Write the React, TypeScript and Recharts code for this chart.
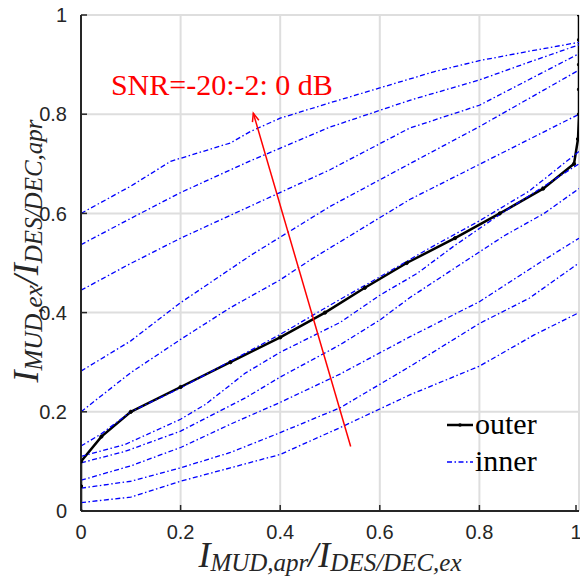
import React from "react";
import {
  LineChart,
  Line,
  XAxis,
  YAxis,
  CartesianGrid,
  Legend,
  ReferenceLine,
  ReferenceDot
} from "recharts";

// axis ticks
const xTicks = [0, 0.2, 0.4, 0.6, 0.8, 1];
const yTicks = [0, 0.2, 0.4, 0.6, 0.8, 1];

// outer curve (MUD)
const outerCurve: [number, number][] = [
  [0, 0], [0, 0.05], [0, 0.1], [0.041, 0.15], [0.1, 0.2], [0.2, 0.25], [0.3, 0.3],
  [0.4, 0.35], [0.49, 0.4], [0.57, 0.45], [0.654, 0.5], [0.751, 0.55], [0.841, 0.6],
  [0.928, 0.65], [0.99, 0.7], [0.998, 0.75], [1, 0.8], [1, 0.85], [1, 0.9], [1, 0.95], [1, 1]
];

// inner curves, one per SNR
const snrLevels = [-20, -18, -16, -14, -12, -10, -8, -6, -4, -2, 0];

const innerM20: [number, number][] = [[0, 0.017], [0.1, 0.028], [0.2, 0.06], [0.3, 0.087], [0.4, 0.114], [0.52, 0.168], [0.66, 0.234], [0.8, 0.292], [0.91, 0.355], [1, 0.4]];
const innerM18: [number, number][] = [[0, 0.046], [0.1, 0.06], [0.2, 0.087], [0.3, 0.118], [0.4, 0.158], [0.52, 0.208], [0.66, 0.291], [0.8, 0.378], [0.9, 0.429], [1, 0.5]];
const innerM16: [number, number][] = [[0, 0.062], [0.1, 0.091], [0.2, 0.128], [0.3, 0.175], [0.4, 0.219], [0.52, 0.276], [0.66, 0.351], [0.8, 0.422], [0.92, 0.5], [1, 0.55]];
const innerM14: [number, number][] = [[0, 0.097], [0.088, 0.12], [0.2, 0.161], [0.33, 0.228], [0.4, 0.27], [0.52, 0.335], [0.6, 0.385], [0.66, 0.43], [0.76, 0.496], [0.85, 0.555], [0.93, 0.6], [1, 0.65]];
const innerM12: [number, number][] = [[0, 0.11], [0.088, 0.134], [0.2, 0.185], [0.25, 0.215], [0.33, 0.278], [0.4, 0.32], [0.47, 0.355], [0.52, 0.38], [0.6, 0.435], [0.675, 0.479], [0.75, 0.535], [0.84, 0.597], [0.93, 0.655], [1, 0.7]];
const innerM10: [number, number][] = [[0, 0.131], [0.04, 0.155], [0.1, 0.2], [0.2, 0.248], [0.3, 0.302], [0.4, 0.356], [0.5, 0.415], [0.6, 0.472], [0.7, 0.53], [0.8, 0.585], [0.9, 0.645], [1, 0.725]];
const innerM8: [number, number][] = [[0, 0.2], [0.1, 0.279], [0.2, 0.346], [0.3, 0.41], [0.4, 0.466], [0.46, 0.506], [0.56, 0.567], [0.66, 0.628], [0.83, 0.714], [1, 0.8]];
const innerM6: [number, number][] = [[0, 0.282], [0.1, 0.343], [0.2, 0.42], [0.34, 0.515], [0.5, 0.614], [0.66, 0.7], [0.8, 0.775], [0.93, 0.849], [1, 0.889]];
const innerM4: [number, number][] = [[0, 0.445], [0.094, 0.496], [0.2, 0.55], [0.33, 0.61], [0.5, 0.688], [0.66, 0.772], [0.8, 0.818], [0.9, 0.87], [1, 0.922]];
const innerM2: [number, number][] = [[0, 0.537], [0.1, 0.59], [0.2, 0.642], [0.34, 0.706], [0.5, 0.774], [0.66, 0.828], [0.8, 0.869], [0.9, 0.905], [1, 0.94]];
const inner0: [number, number][] = [[0, 0.6], [0.1, 0.655], [0.18, 0.705], [0.3, 0.742], [0.34, 0.765], [0.4, 0.792], [0.5, 0.823], [0.6, 0.853], [0.71, 0.886], [0.8, 0.908], [0.9, 0.927], [1, 0.945]];

const innerCurves = [innerM20, innerM18, innerM16, innerM14, innerM12, innerM10, innerM8, innerM6, innerM4, innerM2, inner0];

// arrow annotation (tail -> head) and its text
const arrowTail = { x: 0.5415, y: 0.13 };
const arrowHead = { x: 0.346, y: 0.802 };
const snrText = "SNR=-20:-2: 0 dB";
const snrTextPos = { x: 0.06, y: 0.839 };

const legendOrder = ["outer", "inner"];

const toPts = (arr: [number, number][]) => arr.map(([x, y]) => ({ x, y }));

const DASHDOT = "5 2.5 1.5 2.5";
const AXIS_COLOR = "#262626";
const serif = "'Liberation Serif', 'Times New Roman', serif";
const sans = "'Liberation Sans', Arial, sans-serif";
const TICK_GAP = 14; // distance from the axis line to the label
const TICK_LEN = 6; // MATLAB style ticks point into the plot

const BottomTick = (p: any) => {
  const axisY = p.y - TICK_GAP;
  return (
    <g>
      <line x1={p.x} x2={p.x} y1={axisY} y2={axisY - TICK_LEN} stroke={AXIS_COLOR} strokeWidth={1.5} />
      <text x={p.x} y={p.y} dy="0.71em" textAnchor="middle" fontSize={20} fontFamily={sans} fill={AXIS_COLOR}>
        {String(p.payload.value)}
      </text>
    </g>
  );
};

const LeftTick = (p: any) => {
  const axisX = p.x + TICK_GAP;
  return (
    <g>
      <line x1={axisX} x2={axisX + TICK_LEN} y1={p.y} y2={p.y} stroke={AXIS_COLOR} strokeWidth={1.5} />
      <text x={p.x} y={p.y} dy="0.355em" textAnchor="end" fontSize={20} fontFamily={sans} fill={AXIS_COLOR}>
        {String(p.payload.value)}
      </text>
    </g>
  );
};

const TopTick = (p: any) => (
  <line x1={p.x} x2={p.x} y1={p.y} y2={p.y + TICK_LEN} stroke={AXIS_COLOR} strokeWidth={1.5} />
);

const RightTick = (p: any) => (
  <line x1={p.x} x2={p.x - TICK_LEN} y1={p.y} y2={p.y} stroke={AXIS_COLOR} strokeWidth={1.5} />
);

const Arrow = (props: any) => {
  const { x1, y1, x2, y2 } = props;
  const ang = Math.atan2(y2 - y1, x2 - x1);
  const len = 9;
  const spread = 0.38;
  const ax = x2 - len * Math.cos(ang - spread);
  const ay = y2 - len * Math.sin(ang - spread);
  const bx = x2 - len * Math.cos(ang + spread);
  const by = y2 - len * Math.sin(ang + spread);
  return (
    <g>
      <line x1={x1} y1={y1} x2={x2} y2={y2} stroke="#ff0000" strokeWidth={1.5} />
      <polyline points={`${ax},${ay} ${x2},${y2} ${bx},${by}`} fill="none" stroke="#ff0000" strokeWidth={1.5} />
    </g>
  );
};

const XTitle = (props: any) => {
  const vb = props.viewBox;
  const cx = vb.x + vb.width / 2;
  const y = vb.y + 56;
  return (
    <text x={cx} y={y} textAnchor="middle" style={{ fontFamily: serif, fontStyle: "italic" }} fontSize={36} fill={AXIS_COLOR}>
      I<tspan fontSize={25} dy={4}>MUD,apr</tspan>
      <tspan fontSize={36} dy={-4}>/I</tspan>
      <tspan fontSize={25} dy={4}>DES/DEC,ex</tspan>
    </text>
  );
};

const YTitle = (props: any) => {
  const vb = props.viewBox;
  const cx = 38;
  const cy = vb.y + vb.height / 2 - 12;
  return (
    <text
      x={cx}
      y={cy}
      transform={`rotate(-90 ${cx} ${cy})`}
      textAnchor="middle"
      style={{ fontFamily: serif, fontStyle: "italic" }}
      fontSize={36}
      fill={AXIS_COLOR}
    >
      I<tspan fontSize={25} dy={4}>MUD,ex</tspan>
      <tspan fontSize={36} dy={-4}>/I</tspan>
      <tspan fontSize={25} dy={4}>DES/DEC,apr</tspan>
    </text>
  );
};

const LegendBox = (props: any) => {
  const items = legendOrder
    .map((name) => (props.payload || []).find((p: any) => p.value === name))
    .filter(Boolean);
  return (
    <svg width={130} height={80}>
      {items.map((it: any, i: number) => {
        const y = 25 + i * 37;
        const isOuter = it.value === "outer";
        return (
          <g key={it.value}>
            <line
              x1={7}
              x2={33}
              y1={y}
              y2={y}
              stroke={isOuter ? "#000" : "#0000ff"}
              strokeWidth={isOuter ? 2.5 : 1.3}
              strokeDasharray={isOuter ? undefined : DASHDOT}
            />
            {isOuter && <circle cx={20} cy={y} r={1.8} fill="#000" />}
            <text x={35} y={y + 8.5} style={{ fontFamily: serif }} fontSize={30} fill="#000">
              {it.value}
            </text>
          </g>
        );
      })}
    </svg>
  );
};

export default function App() {
  return (
    <div style={{ position: "absolute", left: 0, top: 0, width: 580, height: 582, background: "#fff" }}>
      <LineChart width={580} height={582} margin={{ top: 15, right: 0, left: 0, bottom: 0 }}>
        <CartesianGrid stroke="#dedede" strokeWidth={2} horizontalValues={yTicks} verticalValues={xTicks} />
        <XAxis
          dataKey="x"
          type="number"
          domain={[0, 1]}
          ticks={xTicks}
          height={71}
          stroke={AXIS_COLOR}
          strokeWidth={2}
          tickLine={false}
          tickSize={0}
          tickMargin={TICK_GAP}
          tick={BottomTick}
          label={{ content: XTitle }}
          allowDataOverflow
        />
        <XAxis
          xAxisId="top"
          orientation="top"
          type="number"
          domain={[0, 1]}
          ticks={xTicks}
          height={0}
          stroke={AXIS_COLOR}
          strokeWidth={2}
          tickLine={false}
          tickSize={0}
          tickMargin={0}
          tick={TopTick}
        />
        <YAxis
          type="number"
          domain={[0, 1]}
          ticks={yTicks}
          width={81}
          stroke={AXIS_COLOR}
          strokeWidth={2}
          tickLine={false}
          tickSize={0}
          tickMargin={TICK_GAP}
          tick={LeftTick}
          label={{ content: YTitle }}
          allowDataOverflow
        />
        <YAxis
          yAxisId="right"
          orientation="right"
          type="number"
          domain={[0, 1]}
          ticks={yTicks}
          width={1}
          axisLine={false}
          tickLine={false}
          tickSize={0}
          tickMargin={0}
          tick={RightTick}
        />
        <Line
          data={toPts(outerCurve)}
          dataKey="y"
          name="outer"
          type="linear"
          stroke="#000000"
          strokeWidth={2.5}
          dot={{ r: 1.6, fill: "#000", stroke: "#000", strokeWidth: 1 }}
          isAnimationActive={false}
        />
        {innerCurves.map((c, i) => (
          <Line
            key={snrLevels[i]}
            data={toPts(c)}
            dataKey="y"
            name="inner"
            type="linear"
            stroke="#0000ff"
            strokeWidth={1.3}
            strokeDasharray={DASHDOT}
            dot={false}
            isAnimationActive={false}
          />
        ))}
        <ReferenceLine segment={[arrowTail, arrowHead]} shape={Arrow} ifOverflow="visible" />
        <ReferenceDot
          x={snrTextPos.x}
          y={snrTextPos.y}
          r={0}
          ifOverflow="visible"
          label={{
            content: (p: any) => (
              <text x={p.viewBox.x} y={p.viewBox.y} style={{ fontFamily: serif }} fontSize={30} fill="#ff0000">
                {snrText}
              </text>
            )
          }}
        />
        <Legend
          layout="vertical"
          align="center"
          verticalAlign="middle"
          content={LegendBox}
          wrapperStyle={{ left: 440, top: 400, width: 130, height: 80 }}
        />
      </LineChart>
    </div>
  );
}
